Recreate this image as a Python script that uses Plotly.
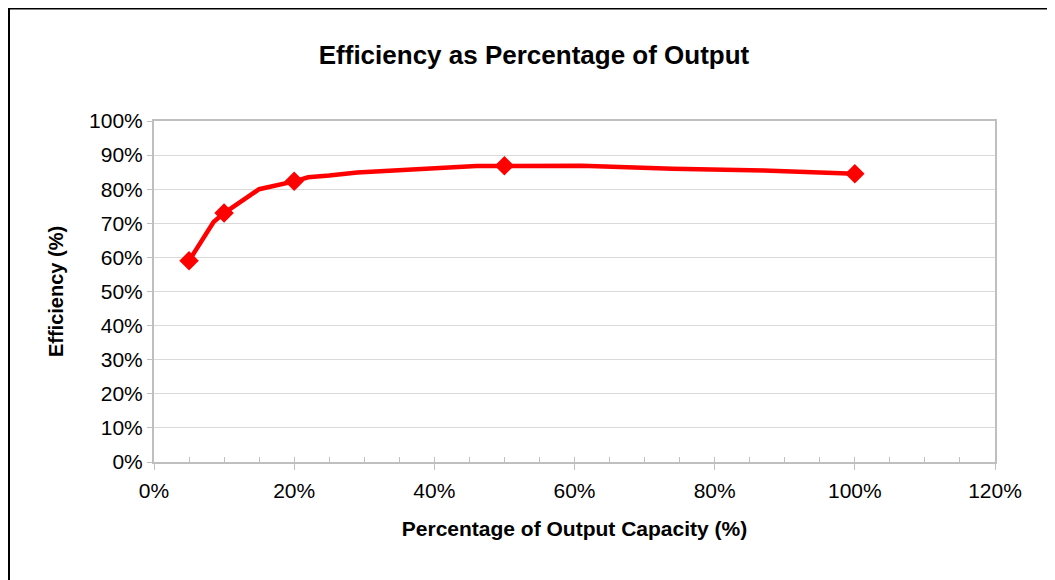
import plotly.graph_objects as go

# Data (percent)
line_x = [5, 8.5, 10, 15, 20, 22, 25, 29, 46, 50, 61, 74, 87, 100]
line_y = [59, 70.4, 73, 80, 82.3, 83.5, 84, 84.9, 86.8, 86.9, 86.9, 86.0, 85.5, 84.5]
marker_x = [5, 10, 20, 50, 100]
marker_y = [59, 73, 82.3, 86.9, 84.5]

title_text = "Efficiency as Percentage of Output"
x_title = "Percentage of Output Capacity (%)"
y_title = "Efficiency (%)"

RED = "#ff0000"
GRID = "#d9d9d9"
AXIS = "#bfbfbf"
FONT = "Liberation Sans, Arial, sans-serif"

fig = go.Figure()
fig.add_trace(go.Scatter(x=line_x, y=line_y, mode="lines",
                         line=dict(color=RED, width=4.5), hoverinfo="skip",
                         showlegend=False))
fig.add_trace(go.Scatter(x=marker_x, y=marker_y, mode="markers",
                         marker=dict(symbol="diamond", size=15, color=RED),
                         showlegend=False))
# overlay axis for inside minor ticks
fig.add_trace(go.Scatter(x=[0], y=[0], xaxis="x2", mode="markers",
                         marker=dict(opacity=0), showlegend=False, hoverinfo="skip"))

OFF = 8  # page body margin
W, H = 1055 - OFF, 580 - OFF
# plot area in page pixels: x 154..995, y 121..462
L, R, T, B = 154 - OFF, (1055 - OFF) - (995 - OFF), 121 - OFF, (580 - OFF) - (462 - OFF)
pw, ph = W - L - R, H - T - B


def px(xpage):
    return (xpage - OFF - L) / pw


def py(ypage):
    return (H - B - (ypage - OFF)) / ph


fig.update_layout(
    width=W, height=H,
    margin=dict(l=L, r=R, t=T, b=B),
    paper_bgcolor="white", plot_bgcolor="white",
    font=dict(family=FONT, color="black"),
    title=dict(text="<b>" + title_text + "</b>", x=(534 - OFF) / W, xanchor="center",
               y=1 - (55 - OFF) / H, yanchor="middle",
               font=dict(size=26, family=FONT, color="black")),
    xaxis=dict(range=[0, 120], dtick=20, ticksuffix="%",
               showgrid=False, zeroline=False,
               showline=True, linecolor=AXIS, linewidth=2, mirror=True,
               ticks="outside", ticklen=6, tickcolor=AXIS, tickwidth=1,
               ticklabelstandoff=3,
               tickfont=dict(size=21, family=FONT),
               title=dict(text="<b>" + x_title + "</b>", standoff=20,
                          font=dict(size=21, family=FONT))),
    xaxis2=dict(range=[0, 120], dtick=5, overlaying="x", anchor="y",
                side="bottom", showticklabels=False, showgrid=False,
                zeroline=False, showline=False,
                ticks="inside", ticklen=5, tickcolor=AXIS, tickwidth=1),
    yaxis=dict(range=[0, 100], dtick=10, ticksuffix="%",
               showgrid=True, gridcolor=GRID, gridwidth=1, zeroline=False,
               showline=True, linecolor=AXIS, linewidth=2, mirror=True,
               ticks="outside", ticklen=5, tickcolor=AXIS, tickwidth=1,
               tickfont=dict(size=21, family=FONT),
               title=dict(text="<b>" + y_title + "</b>", standoff=20,
                          font=dict(size=20, family=FONT))),
    shapes=[dict(type="rect", xref="paper", yref="paper",
                 x0=px(9), x1=px(1075), y0=py(600), y1=py(8.5),
                 line=dict(color="black", width=2), fillcolor="rgba(0,0,0,0)",
                 layer="below")],
)

fig.write_html("out.html")
